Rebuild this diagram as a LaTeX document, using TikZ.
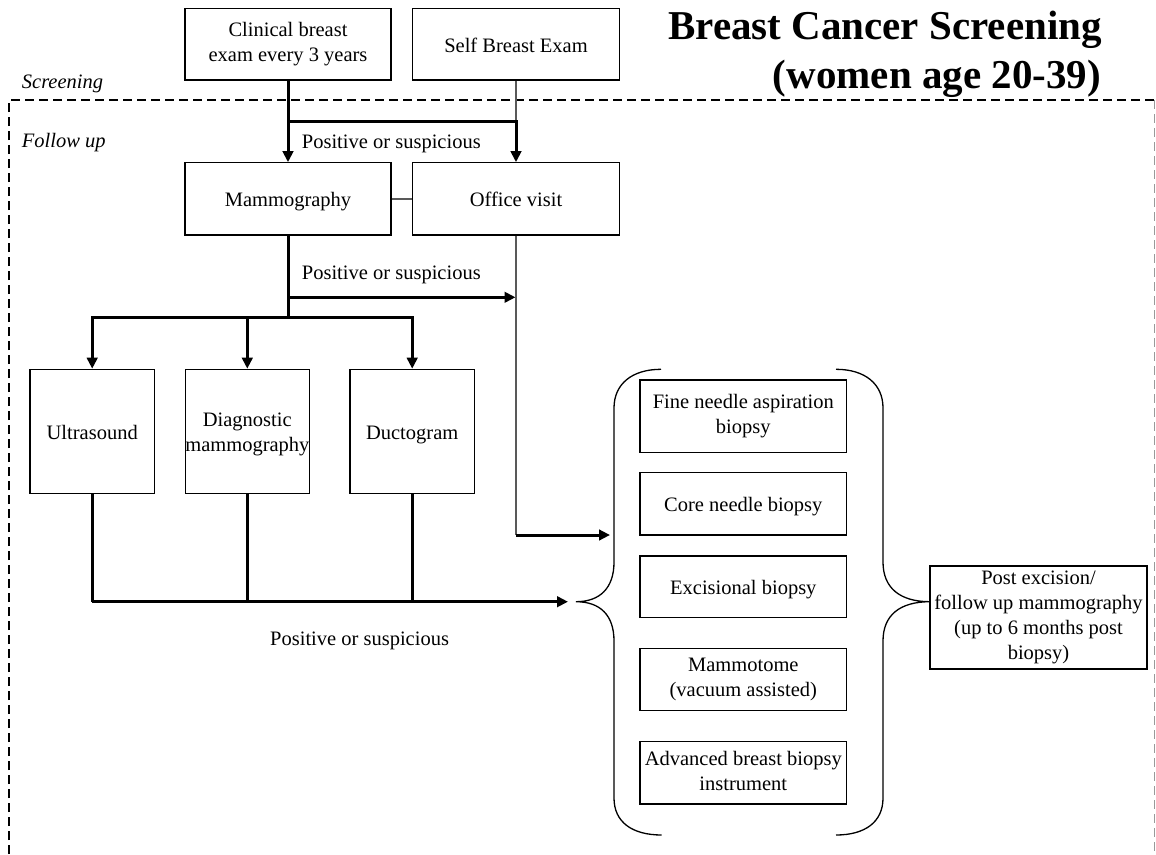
\documentclass[tikz,border=0pt]{standalone}
\usepackage{fontspec}
\setmainfont{Liberation Serif}
\usetikzlibrary{arrows.meta}
\newcommand\mytxt{\fontsize{20.5}{25}\selectfont}
\newcommand\topstrut{\rule{0pt}{21pt}}
\newcommand\botstrut{\rule[-5pt]{0pt}{5pt}}
\begin{document}
\begin{tikzpicture}[x=1pt,y=-1pt,
  box/.style={draw=black, line width=1.2pt, inner sep=0pt, align=center, font=\mytxt,
    execute at begin node={\topstrut}, execute at end node={\botstrut}},
  lbl/.style={inner sep=0pt, font=\mytxt},
  thickline/.style={line width=3pt, draw=black},
  thinline/.style={line width=1.3pt, draw=black!65},
  arr/.style={-{Triangle[length=11pt,width=10.5pt]}},
  frame/.style={line width=2pt, dash pattern=on 9pt off 5pt},
  bracepath/.style={line width=1.3pt, draw=black}
]
\useasboundingbox (0,0) rectangle (1156,854);

% dashed frame
\draw[frame] (9.3,854) -- (9.3,100) -- (1155,100);
\draw[line width=1.2pt, draw=black!40, dash pattern=on 9pt off 5pt] (1154.5,100) -- (1154.5,854);

% title
\node[inner sep=0pt, anchor=base east, font=\fontsize{41}{49}\selectfont\bfseries] (title1) at (1102,39.3) {Breast Cancer Screening};
\node[inner sep=0pt, anchor=base east, font=\fontsize{41}{49}\selectfont\bfseries] (title2) at (1101,88.3) {(women age 20-39)};

% section labels
\node[lbl, anchor=base west, font=\mytxt\itshape] (scr) at (21.7,88) {Screening};
\node[lbl, anchor=base west, font=\mytxt\itshape] (fol) at (21.7,147) {Follow up};

% boxes
\node[box, minimum width=206pt, minimum height=71.7pt] (clin) at (288,44.2) {Clinical breast\\exam every 3 years};
\node[box, minimum width=206.6pt, minimum height=71.7pt] (self) at (516,44.2) {Self Breast Exam};
\node[box, minimum width=206pt, minimum height=72.3pt] (mammo) at (288,198.9) {Mammography};
\node[box, minimum width=206.6pt, minimum height=72.3pt] (office) at (516,198.9) {Office visit};

\node[box, minimum width=124.3pt, minimum height=124pt] (ultra) at (92.2,431.3) {Ultrasound};
\node[box, text width=124pt, minimum height=124pt] (diag) at (247.3,431.3) {Diagnostic\\mammography};
\node[box, minimum width=124.3pt, minimum height=124pt] (duct) at (412.2,431.3) {Ductogram};

\node[box, minimum width=206.7pt, minimum height=72.3pt] (fine) at (743.3,416.2) {Fine needle aspiration\\biopsy};
\node[box, minimum width=206.7pt, minimum height=62.3pt] (core) at (743.3,503.9) {Core needle biopsy};
\node[box, minimum width=206.7pt, minimum height=61.3pt] (excis) at (743.3,586.7) {Excisional biopsy};
\node[box, minimum width=206.7pt, minimum height=62.4pt] (mammot) at (743.3,679.5) {Mammotome\\(vacuum assisted)};
\node[box, minimum width=206.7pt, minimum height=62.3pt] (adv) at (743.3,772.9) {Advanced breast biopsy\\instrument};

\node[box, minimum width=217pt, minimum height=103pt] (post) at (1038.5,617.5) {Post excision/\\follow up mammography\\(up to 6 months post\\biopsy)};

% edge labels
\node[lbl, anchor=base west] (pos1) at (301.7,148.3) {Positive or suspicious};
\node[lbl, anchor=base west] (pos2) at (301.7,279.5) {Positive or suspicious};
\node[lbl, anchor=base west] (pos3) at (270,645) {Positive or suspicious};

% junction coordinates
\coordinate (j1) at (288,121.7);
\coordinate (j2) at (516,121.7);
\coordinate (j3) at (288,317.3);
\coordinate (j4) at (288,297.3);
\coordinate (t4) at (515.5,297.3);
\coordinate (j5) at (516,535);
\coordinate (b1) at (610,535);
\coordinate (j6) at (92.2,601.7);
\coordinate (b2) at (568,601.7);
\coordinate (ltip) at (576,601.7);
\coordinate (rtip) at (930,601.7);

% screening connectors
\draw[thinline] (self.south) -- (j2);
\draw[thickline, arr] (clin.south) -- (mammo.north);
\draw[thickline, arr] (j1) -- (j2) -- (office.north);
\draw[thinline] (mammo.east) -- (office.west);

% follow-up connectors
\draw[thickline] (mammo.south) -- (j3);
\draw[thickline, arr] (j4) -- (t4);
\draw[thickline, arr] (j3) -| (ultra.north);
\draw[thickline, arr] (j3) -| (duct.north);
\draw[thickline, arr] (diag.north |- j3) -- (diag.north);
\draw[thinline] (office.south) -- (j5);
\draw[thickline, arr] (j5) -- (b1);

% from tests to biopsy
\draw[thickline] (ultra.south) -- (j6);
\draw[thickline] (diag.south) -- (diag.south |- j6);
\draw[thickline] (duct.south) -- (duct.south |- j6);
\draw[thickline, arr] (j6) -- (b2);

% left brace
\draw[bracepath] (661,369.3) .. controls (632,369.3) and (614,384) .. (614,408)
  -- (614,562) .. controls (614,588) and (600,601.7) .. (ltip)
  .. controls (600,601.7) and (614,615) .. (614,641)
  -- (614,798) .. controls (614,822) and (632,835) .. (661.7,835);
% right brace
\draw[bracepath] (836,369.3) .. controls (865,369.3) and (883,384) .. (883,408)
  -- (883,562) .. controls (883,588) and (900,601.7) .. (rtip)
  .. controls (900,601.7) and (883,615) .. (883,641)
  -- (883,798) .. controls (883,822) and (865,835) .. (836,835);
\end{tikzpicture}
\end{document}
